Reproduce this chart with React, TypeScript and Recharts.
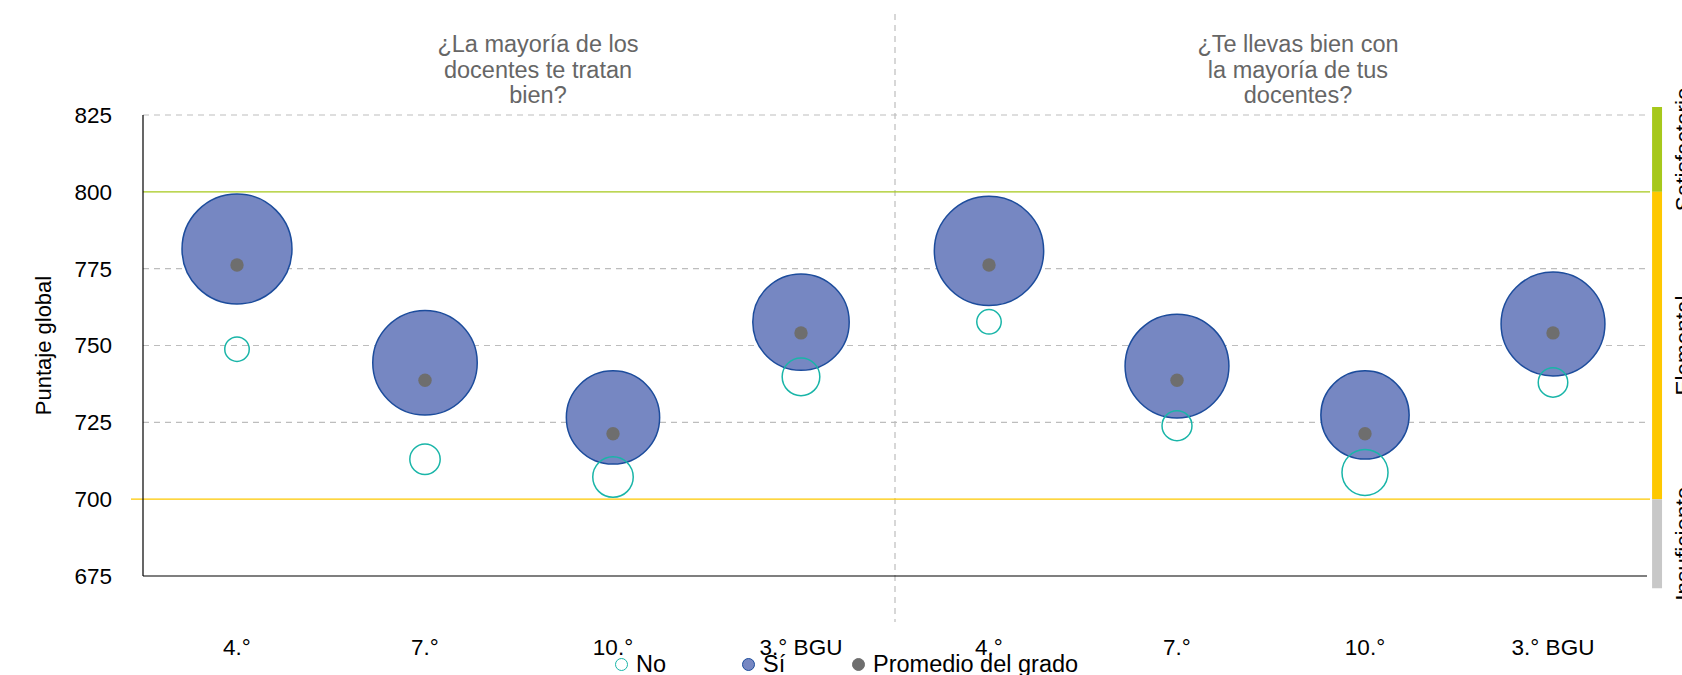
import React from 'react';
import {
  ScatterChart,
  Scatter,
  XAxis,
  YAxis,
  ZAxis,
  ReferenceLine,
  ReferenceArea,
} from 'recharts';

const FONT = '"Liberation Sans", Arial, Helvetica, sans-serif';

const grades = ['4.°', '7.°', '10.°', '3.° BGU', '4.°', '7.°', '10.°', '3.° BGU'];
const questionLines = [
  ['¿La mayoría de los', 'docentes te tratan', 'bien?'],
  ['¿Te llevas bien con', 'la mayoría de tus', 'docentes?'],
];
const yTicks = [675, 700, 725, 750, 775, 800, 825];
const dashedValues = [725, 750, 775, 825];

// students answering "Sí": global score and share (%)
const siScores = [781.4, 744.4, 726.6, 757.6, 780.8, 743.3, 727.4, 757];
const siShares = [93, 84, 67, 71.5, 92, 83, 60, 83];
// students answering "No"
const noScores = [748.8, 713, 707.2, 739.8, 757.7, 723.9, 708.7, 738];
const noShares = [4.6, 7.1, 12.6, 10.9, 4.6, 6.9, 16.3, 6.7];
// grade average
const avgScores = [776.2, 738.7, 721.3, 754.1, 776.2, 738.7, 721.3, 754.1];

// achievement levels (score bounds)
const levelNames = ['Satisfactorio', 'Elemental', 'Insuficiente'];
const levelBounds: [number, number][] = [
  [800, 827.6],
  [700, 800],
  [671, 700],
];
const LEVEL_COLORS = ['#a6c81b', '#fec800', '#c8c8c8'];

const TEAL = '#19b5a8';
const BLUE_FILL = '#7687c2';
const BLUE_LINE = '#1c4c9c';
const GREY_DOT = '#6e6e6e';

const toPoints = (scores: number[], shares?: number[]) =>
  scores.map((y, i) => ({ x: i + 0.5, y, z: shares ? shares[i] : undefined, grade: grades[i] }));

const siData = toPoints(siScores, siShares);
const noData = toPoints(noScores, noShares);
const avgData = toPoints(avgScores);

const BandLabel = ({ viewBox, text }: any) => {
  if (!viewBox) return null;
  const cx = viewBox.x + viewBox.width + 29;
  const cy = viewBox.y + viewBox.height / 2;
  return (
    <text
      x={cx}
      y={cy}
      transform={`rotate(-90 ${cx} ${cy})`}
      textAnchor="middle"
      fontSize={22.5}
      fontFamily={FONT}
      fill="#000"
    >
      {text}
    </text>
  );
};

const YTitle = ({ viewBox }: any) => {
  if (!viewBox) return null;
  const cx = viewBox.x + 43;
  const cy = viewBox.y + viewBox.height / 2;
  return (
    <text
      x={cx}
      y={cy}
      transform={`rotate(-90 ${cx} ${cy})`}
      textAnchor="middle"
      dominantBaseline="central"
      fontSize={22}
      fontFamily={FONT}
      fill="#000"
    >
      Puntaje global
    </text>
  );
};

// grade average marker, fixed size
const AvgDot = (p: any) => <circle cx={p.cx} cy={p.cy} r={6.7} fill={GREY_DOT} />;

const legendItems = [
  { label: 'No', left: 615, fill: '#fff', stroke: TEAL },
  { label: 'Sí', left: 742, fill: BLUE_FILL, stroke: BLUE_LINE },
  { label: 'Promedio del grado', left: 852, fill: GREY_DOT, stroke: GREY_DOT },
];

export default function App() {
  return (
    <div style={{ position: 'absolute', left: 0, top: 0, width: 1682, height: 675, fontFamily: FONT, background: '#fff' }}>
      <ScatterChart width={1682} height={675} margin={{ top: 115, right: 35, bottom: 0, left: 0 }}>
        <XAxis
          type="number"
          dataKey="x"
          domain={[0, 8]}
          ticks={[0.5, 1.5, 2.5, 3.5, 4.5, 5.5, 6.5, 7.5]}
          tickFormatter={(v: number) => grades[Math.floor(v)]}
          axisLine={{ stroke: '#000', strokeWidth: 1.2 }}
          tickLine={false}
          tickSize={0}
          tickMargin={63}
          height={99}
          tick={{ fontSize: 22.5, fill: '#000', fontFamily: FONT }}
        />
        <YAxis
          type="number"
          dataKey="y"
          domain={[675, 825]}
          ticks={yTicks}
          axisLine={{ stroke: '#000', strokeWidth: 1.2 }}
          tickLine={false}
          tickSize={0}
          tickMargin={31}
          width={143}
          tick={{ fontSize: 22.5, fill: '#000', fontFamily: FONT }}
          label={<YTitle />}
        />
        <ZAxis type="number" dataKey="z" zAxisId="share" domain={[0, 100]} range={[0, 10207]} />

        {dashedValues.map((v) => (
          <ReferenceLine key={v} y={v} stroke="#bdbdbd" strokeWidth={1.2} strokeDasharray="6 5" />
        ))}
        <ReferenceLine
          segment={[{ x: 4, y: 857.9 }, { x: 4, y: 660 }]}
          ifOverflow="visible"
          stroke="#bdbdbd"
          strokeWidth={1.2}
          strokeDasharray="6 5"
        />
        <ReferenceLine
          segment={[{ x: 0, y: 800 }, { x: 8.016, y: 800 }]}
          ifOverflow="visible"
          stroke="#a6c81b"
          strokeWidth={1.3}
        />
        <ReferenceLine
          segment={[{ x: -0.064, y: 700 }, { x: 8.016, y: 700 }]}
          ifOverflow="visible"
          stroke="#fec800"
          strokeWidth={1.3}
        />

        {levelNames.map((name, i) => (
          <ReferenceArea
            key={name}
            x1={8.027}
            x2={8.08}
            y1={levelBounds[i][0]}
            y2={levelBounds[i][1]}
            ifOverflow="visible"
            fill={LEVEL_COLORS[i]}
            fillOpacity={1}
            stroke="none"
            label={<BandLabel text={name} />}
          />
        ))}

        <Scatter
          name="Sí"
          data={siData}
          zAxisId="share"
          fill={BLUE_FILL}
          stroke={BLUE_LINE}
          strokeWidth={1.5}
          isAnimationActive={false}
        />
        <Scatter
          name="No"
          data={noData}
          zAxisId="share"
          fill="none"
          stroke={TEAL}
          strokeWidth={1.5}
          isAnimationActive={false}
        />
        <Scatter
          name="Promedio del grado"
          data={avgData}
          zAxisId="share"
          fill={GREY_DOT}
          shape={AvgDot}
          isAnimationActive={false}
        />
      </ScatterChart>

      {questionLines.map((lines, i) => (
        <div
          key={i}
          style={{
            position: 'absolute',
            top: 32,
            left: (i === 0 ? 538 : 1298) - 170,
            width: 340,
            textAlign: 'center',
            fontSize: 23.5,
            lineHeight: '25.7px',
            color: '#666',
          }}
        >
          {lines.map((l) => (
            <div key={l}>{l}</div>
          ))}
        </div>
      ))}

      {legendItems.map((item) => (
        <div
          key={item.label}
          style={{
            position: 'absolute',
            top: 651,
            left: item.left,
            height: 26,
            display: 'flex',
            alignItems: 'center',
            fontSize: 23.5,
            color: '#000',
            whiteSpace: 'nowrap',
          }}
        >
          <span
            style={{
              display: 'inline-block',
              width: 11,
              height: 11,
              borderRadius: '50%',
              background: item.fill,
              border: `1.5px solid ${item.stroke}`,
              marginRight: 8,
            }}
          />
          {item.label}
        </div>
      ))}
    </div>
  );
}
